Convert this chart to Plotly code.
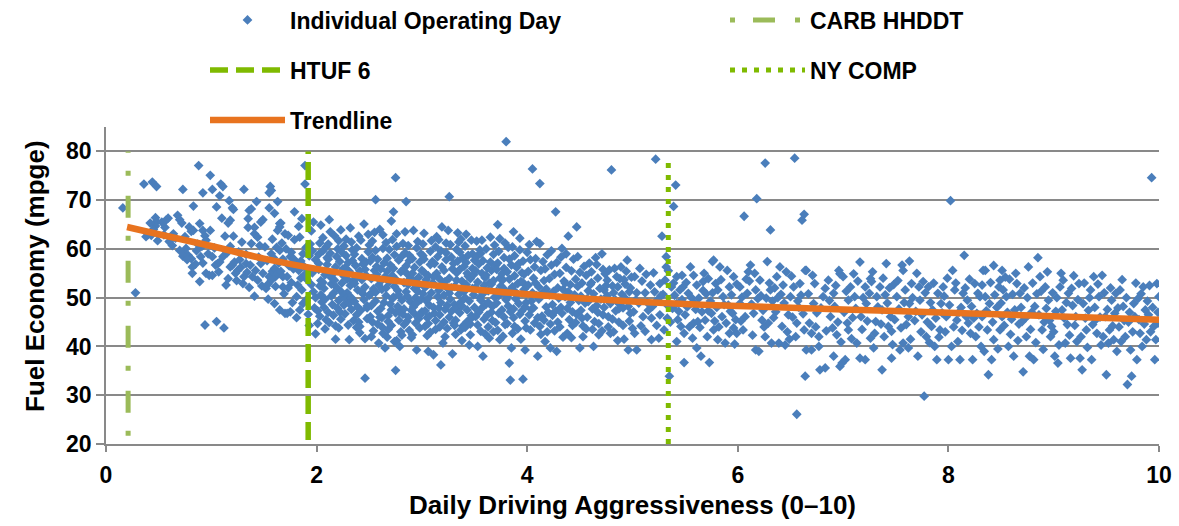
import plotly.graph_objects as go

# ---------------- data ----------------
# Individual operating days: (aggressiveness, fuel economy mpge), grouped by x range
days_00_05 = [(0.16,68.4),(0.28,51.0),(0.36,73.3),(0.44,73.7),(0.48,72.8),(0.40,63.0),(0.47,66.4),(0.48,65.6),(0.47,64.7),(0.43,62.8),(0.45,64.0),(0.38,62.5),(0.49,61.7),(0.42,65.3)]
days_05_10 = [(0.53,65.5),(0.56,64.4),(0.59,66.3),(0.57,65.9),(0.68,66.9),(0.70,66.0),(0.72,65.3),(0.79,64.5),(0.81,63.6),(0.83,63.8),(0.89,65.2),(0.92,63.8),(0.94,62.7),(0.99,63.8),(0.73,72.2),(0.88,77.1),(0.99,75.1),(0.92,71.5),(0.83,68.8),(0.63,60.7),(0.73,58.5),(0.74,59.2),(0.78,58.7),(0.81,58.0),(0.82,56.3),(0.82,55.0),(0.89,53.3),(0.90,58.4),(0.92,57.1),(0.95,55.0),(0.98,54.6),(0.94,44.4),(0.60,61.5),(0.66,62.2),(0.76,60.1),(0.86,59.6),(0.97,59.0),(0.91,60.5),(0.85,56.9),(0.77,57.8),(0.70,59.7),(0.95,61.8),(0.87,61.0),(0.64,63.1),(0.55,62.9),(0.75,62.5)]
days_10_15 = [(1.01,72.2),(1.09,73.3),(1.11,72.8),(1.08,70.9),(1.31,72.2),(1.17,69.9),(1.05,68.6),(1.20,68.4),(1.21,68.1),(1.43,69.7),(1.36,67.9),(1.38,68.2),(1.10,66.3),(1.16,65.3),(1.18,65.9),(1.13,62.6),(1.21,62.6),(1.35,66.2),(1.35,64.4),(1.41,64.4),(1.41,63.1),(1.44,62.4),(1.47,65.5),(1.49,66.0),(1.01,54.6),(1.01,58.4),(1.04,56.7),(1.06,57.0),(1.08,57.3),(1.11,58.4),(1.14,52.6),(1.16,53.9),(1.18,56.3),(1.18,60.5),(1.20,56.7),(1.22,57.3),(1.23,55.0),(1.25,55.6),(1.27,57.8),(1.28,56.2),(1.30,52.9),(1.31,54.3),(1.33,57.0),(1.37,56.7),(1.38,61.1),(1.39,54.3),(1.41,50.3),(1.42,55.6),(1.44,53.6),(1.46,60.7),(1.47,57.0),(1.49,55.0),(1.05,45.1),(1.12,43.8),(1.03,60.2),(1.26,59.4),(1.33,58.9),(1.45,58.3),(1.15,59.2),(1.29,61.4),(1.24,53.5),(1.36,52.1),(1.48,52.4),(1.07,55.3),(1.34,55.2)]
days_15_20 = [(1.52,51.9),(1.54,52.8),(1.55,54.3),(1.57,59.0),(1.58,55.4),(1.60,56.0),(1.61,54.3),(1.63,55.0),(1.65,59.7),(1.66,55.4),(1.68,54.3),(1.60,48.8),(1.65,47.5),(1.70,46.8),(1.56,72.8),(1.55,71.5),(1.57,72.0),(1.63,69.7),(1.60,67.3),(1.55,68.4),(1.65,64.5),(1.63,63.8),(1.66,65.3),(1.65,65.2),(1.73,62.8),(1.79,67.6),(1.75,58.4),(1.72,54.3),(1.68,52.2),(1.75,47.1),(1.72,46.8),(1.89,73.3),(1.89,77.1),(1.86,66.2),(1.84,62.4),(1.83,55.6),(1.86,51.6),(1.84,47.5),(1.87,59.0),(1.53,57.6),(1.59,58.2),(1.62,60.3),(1.67,61.2),(1.71,60.0),(1.74,56.5),(1.76,53.1),(1.78,55.9),(1.80,57.4),(1.81,50.2),(1.82,52.6),(1.85,54.0),(1.88,56.4),(1.90,49.5),(1.91,53.7),(1.93,58.6),(1.94,61.0),(1.96,55.1),(1.97,51.2),(1.98,47.9),(1.92,46.6),(1.77,49.0),(1.69,50.8),(1.95,63.7),(1.99,57.8),(1.79,61.9),(1.70,63.1),(1.58,62.0),(1.51,60.4),(1.97,65.5),(1.83,64.6),(1.76,59.3),(1.64,57.1),(1.87,48.8),(1.93,44.3),(1.99,42.6),(1.81,45.9),(1.90,60.3),(1.73,52.0),(1.61,52.3),(1.54,49.7),(1.85,57.5),(1.95,52.7),(1.89,54.8),(1.78,58.0),(1.68,57.9),(1.57,53.6),(1.99,50.0),(1.96,59.6)]
days_20_25 = [(2.01,47.3),(2.02,55.8),(2.03,61.2),(2.04,50.6),(2.02,58.9),(2.01,44.7),(2.03,52.4),(2.04,64.9),(2.05,49.1),(2.02,57.0),(2.04,53.5),(2.03,46.2),
(2.06,59.6),(2.07,48.0),(2.08,54.7),(2.06,62.3),(2.09,45.5),(2.07,51.9),(2.10,56.8),(2.08,43.6),(2.09,60.4),(2.06,53.1),(2.08,49.7),(2.10,58.2),
(2.11,47.0),(2.12,55.2),(2.13,63.5),(2.14,50.3),(2.11,57.9),(2.12,44.9),(2.14,52.8),(2.13,59.1),(2.15,48.6),(2.12,66.0),(2.14,54.1),(2.11,61.0),
(2.16,46.4),(2.17,53.6),(2.18,41.5),(2.19,58.4),(2.16,50.9),(2.18,56.3),(2.17,62.7),(2.20,47.8),(2.19,52.1),(2.16,55.0),(2.18,44.2),(2.20,60.0),
(2.21,49.4),(2.22,57.4),(2.23,45.6),(2.24,53.0),(2.21,61.7),(2.23,51.3),(2.22,47.1),(2.25,55.9),(2.24,59.3),(2.21,43.8),(2.23,63.9),(2.25,50.2),
(2.26,54.4),(2.27,46.7),(2.28,58.6),(2.29,51.0),(2.26,48.5),(2.28,62.0),(2.27,56.1),(2.30,44.4),(2.29,53.8),(2.26,60.6),(2.28,49.9),(2.30,57.2),
(2.31,41.4),(2.32,52.5),(2.33,47.6),(2.34,59.8),(2.31,55.4),(2.33,50.0),(2.32,64.3),(2.35,45.3),(2.34,57.6),(2.31,48.8),(2.33,61.4),(2.35,53.3),
(2.36,49.2),(2.37,56.6),(2.38,43.9),(2.39,51.6),(2.36,58.9),(2.38,46.5),(2.37,54.0),(2.40,62.6),(2.39,48.1),(2.36,52.9),(2.38,60.2),(2.40,45.0),
(2.41,55.5),(2.42,47.4),(2.43,58.0),(2.44,50.8),(2.41,44.1),(2.43,53.7),(2.42,61.8),(2.45,49.6),(2.44,56.9),(2.41,42.8),(2.43,51.4),(2.45,65.1),
(2.46,41.6),(2.46,33.5),(2.47,54.6),(2.48,47.9),(2.49,59.4),(2.46,52.2),(2.48,45.7),(2.47,57.3),(2.50,50.5),(2.49,63.0),(2.46,55.8),(2.48,48.3),(2.50,60.8)]
days_25_30 = [(2.51,46.1),(2.52,53.9),(2.53,58.3),(2.54,43.2),(2.51,50.7),(2.53,61.6),(2.52,48.4),(2.55,55.6),(2.54,51.8),(2.51,57.5),(2.53,45.0),(2.55,63.4),(2.52,42.0),
(2.56,70.1),(2.56,49.3),(2.57,56.4),(2.58,44.6),(2.59,52.6),(2.56,59.7),(2.58,47.2),(2.57,54.8),(2.60,64.0),(2.59,40.7),(2.56,51.1),(2.58,57.9),(2.60,46.0),
(2.61,53.4),(2.62,45.9),(2.63,60.1),(2.64,49.0),(2.61,55.9),(2.63,42.7),(2.62,51.7),(2.65,39.7),(2.64,57.1),(2.61,47.8),(2.63,62.9),(2.65,54.3),(2.62,44.0),
(2.66,50.4),(2.67,58.1),(2.68,46.3),(2.69,53.2),(2.66,61.3),(2.68,43.5),(2.67,55.4),(2.70,48.7),(2.69,59.9),(2.66,52.0),(2.68,45.1),(2.70,56.7),(2.67,41.9),
(2.71,65.7),(2.73,67.6),(2.71,47.5),(2.72,54.5),(2.73,50.1),(2.74,58.8),(2.71,44.3),(2.72,61.9),(2.74,52.3),(2.75,46.9),(2.73,56.0),(2.75,35.1),(2.75,74.6),(2.72,49.8),(2.74,41.0),
(2.76,41.2),(2.76,53.6),(2.77,48.2),(2.78,57.7),(2.79,40.0),(2.76,60.5),(2.78,45.4),(2.77,51.5),(2.80,55.3),(2.79,47.0),(2.76,63.1),(2.78,50.6),(2.80,43.0),
(2.81,58.5),(2.82,46.6),(2.83,53.1),(2.84,63.5),(2.81,49.5),(2.83,44.5),(2.82,55.7),(2.85,69.7),(2.85,51.2),(2.84,59.2),(2.81,42.3),(2.83,47.7),(2.85,56.5),(2.82,61.1),
(2.86,45.2),(2.87,52.7),(2.88,57.6),(2.89,49.2),(2.86,54.9),(2.88,43.3),(2.87,60.7),(2.90,47.4),(2.89,53.9),(2.86,50.3),(2.88,58.7),(2.90,41.8),(2.87,46.0),
(2.91,55.0),(2.92,63.8),(2.92,48.1),(2.93,51.9),(2.94,44.8),(2.91,58.0),(2.93,46.7),(2.92,53.5),(2.95,60.2),(2.94,50.0),(2.91,42.4),(2.93,56.2),(2.95,48.9),
(2.95,39.3),(2.96,52.4),(2.97,45.7),(2.98,57.3),(2.99,49.6),(2.96,61.5),(2.98,43.8),(2.97,54.2),(3.00,47.1),(2.99,59.0),(2.96,51.3),(2.98,46.4),(3.00,55.6)]
days_30_35 = [(3.01,50.8),(3.02,57.9),(3.03,44.1),(3.04,53.7),(3.01,61.0),(3.03,47.3),(3.02,55.2),(3.05,42.2),(3.04,49.4),(3.01,58.6),(3.03,52.1),(3.05,45.9),(3.02,63.2),
(3.06,39.0),(3.06,54.5),(3.07,48.5),(3.08,59.5),(3.09,51.0),(3.06,44.7),(3.08,56.8),(3.07,46.2),(3.10,53.0),(3.09,61.7),(3.06,49.9),(3.08,42.9),(3.10,57.4),
(3.11,38.3),(3.11,52.9),(3.12,46.8),(3.13,60.4),(3.14,55.0),(3.11,48.0),(3.13,43.5),(3.12,57.0),(3.15,50.2),(3.14,62.5),(3.11,54.3),(3.13,45.3),(3.15,58.4),
(3.16,47.9),(3.17,53.8),(3.18,36.2),(3.19,64.5),(3.18,59.6),(3.16,51.5),(3.17,44.0),(3.19,56.3),(3.20,40.7),(3.18,49.0),(3.16,61.9),(3.20,52.6),(3.17,46.5),
(3.21,55.6),(3.22,47.6),(3.23,59.2),(3.24,43.7),(3.21,50.5),(3.23,57.8),(3.22,53.3),(3.25,63.8),(3.24,48.4),(3.21,45.0),(3.23,61.2),(3.25,51.8),(3.22,42.0),
(3.26,70.7),(3.26,54.0),(3.27,49.7),(3.28,58.3),(3.29,38.5),(3.26,46.0),(3.28,52.0),(3.27,60.9),(3.30,44.8),(3.29,55.9),(3.26,50.9),(3.28,47.2),(3.30,57.0),
(3.31,52.3),(3.32,45.4),(3.33,59.9),(3.34,63.3),(3.31,48.6),(3.33,55.1),(3.32,42.5),(3.35,50.7),(3.34,57.5),(3.31,44.3),(3.33,53.6),(3.35,61.4),(3.32,47.8),
(3.36,55.8),(3.37,49.1),(3.38,41.2),(3.39,58.1),(3.36,46.9),(3.38,53.4),(3.37,62.0),(3.40,51.2),(3.39,44.2),(3.36,59.3),(3.38,48.3),(3.40,56.4),(3.37,43.4),
(3.41,50.0),(3.42,57.2),(3.43,45.1),(3.44,54.4),(3.41,60.6),(3.43,47.5),(3.42,52.7),(3.45,40.3),(3.44,58.7),(3.41,43.9),(3.43,55.0),(3.45,49.3),(3.42,63.0),
(3.46,53.9),(3.47,46.3),(3.48,59.0),(3.49,50.6),(3.46,44.6),(3.48,56.0),(3.47,61.8),(3.50,48.0),(3.49,54.7),(3.46,42.4),(3.48,51.9),(3.50,57.7),(3.47,45.8)]
days_35_40 = [(3.51,52.1),(3.52,58.4),(3.53,40.0),(3.54,47.0),(3.51,55.5),(3.53,44.4),(3.52,61.6),(3.55,50.0),(3.54,56.9),(3.51,46.1),(3.53,53.2),(3.55,59.8),
(3.57,61.8),(3.56,49.5),(3.57,55.0),(3.58,38.0),(3.59,52.5),(3.56,43.1),(3.58,57.6),(3.57,47.9),(3.60,54.1),(3.59,45.6),(3.56,59.1),(3.58,50.8),(3.60,42.6),
(3.61,48.7),(3.62,56.1),(3.63,44.0),(3.64,53.0),(3.61,60.0),(3.63,51.4),(3.62,46.4),(3.65,57.3),(3.64,41.7),(3.61,54.6),(3.63,49.0),(3.65,62.4),
(3.66,52.8),(3.67,45.3),(3.68,58.9),(3.69,50.1),(3.66,55.6),(3.68,43.0),(3.67,48.2),(3.70,56.6),(3.69,60.8),(3.66,47.0),(3.68,53.5),(3.70,44.9),
(3.72,65.0),(3.74,62.1),(3.74,41.4),(3.71,51.3),(3.72,57.1),(3.73,46.8),(3.74,54.0),(3.71,48.9),(3.73,59.5),(3.72,43.3),(3.75,52.4),(3.71,55.8),(3.73,50.4),
(3.76,47.5),(3.77,53.7),(3.78,58.2),(3.79,44.5),(3.76,51.0),(3.78,56.0),(3.77,42.1),(3.80,49.6),(3.79,61.2),(3.76,54.9),(3.78,46.0),(3.80,82.0),(3.77,52.0),
(3.81,55.3),(3.82,48.3),(3.83,36.6),(3.84,33.1),(3.83,57.9),(3.84,51.6),(3.81,44.7),(3.83,53.8),(3.82,60.3),(3.85,39.7),(3.84,47.1),(3.81,50.2),(3.85,56.7),
(3.87,63.5),(3.86,52.2),(3.87,45.9),(3.88,58.6),(3.89,49.8),(3.86,42.7),(3.88,54.5),(3.87,47.7),(3.90,56.2),(3.89,51.1),(3.86,60.4),(3.88,44.1),
(3.91,50.7),(3.92,57.0),(3.93,46.6),(3.94,53.3),(3.91,43.6),(3.93,59.8),(3.92,48.8),(3.95,55.1),(3.94,41.5),(3.91,52.9),(3.93,62.2),(3.95,47.3),
(3.96,33.3),(3.97,54.8),(3.98,39.3),(3.99,49.0),(3.96,57.5),(3.98,45.2),(3.97,51.7),(4.00,59.3),(3.99,43.8),(3.96,53.1),(3.98,48.1)]
days_40_45 = [(4.01,52.6),(4.02,46.5),(4.03,57.8),(4.04,49.3),(4.01,55.4),(4.03,43.4),(4.02,60.9),(4.05,76.4),(4.05,51.0),(4.04,47.6),
(4.06,54.0),(4.07,44.8),(4.08,58.0),(4.09,50.4),(4.06,47.9),(4.10,38.0),(4.08,53.0),(4.07,56.3),(4.10,45.9),(4.09,61.5),
(4.12,73.4),(4.12,61.1),(4.11,49.7),(4.13,55.6),(4.14,46.2),(4.11,52.2),(4.13,42.5),(4.15,57.4),(4.14,50.9),(4.12,44.1),
(4.16,53.5),(4.17,41.0),(4.18,48.1),(4.19,58.8),(4.16,45.4),(4.18,51.8),(4.17,55.9),(4.20,47.0),(4.19,43.0),
(4.22,39.7),(4.21,50.6),(4.23,56.7),(4.24,46.4),(4.21,53.9),(4.23,59.6),(4.22,44.6),(4.25,51.3),(4.24,48.6),
(4.27,67.6),(4.28,39.0),(4.26,54.8),(4.27,47.3),(4.29,52.0),(4.26,43.2),(4.28,57.2),(4.30,49.9),(4.29,45.0),
(4.31,55.0),(4.32,48.0),(4.33,60.1),(4.34,51.7),(4.31,44.0),(4.33,46.8),(4.35,53.4),(4.32,58.3),(4.34,41.9),
(4.36,50.2),(4.38,42.7),(4.39,62.6),(4.37,56.2),(4.38,47.8),(4.36,53.0),(4.40,45.5),(4.39,51.2),(4.37,59.0),
(4.41,49.0),(4.42,55.5),(4.43,44.3),(4.44,57.9),(4.41,52.7),(4.43,47.1),(4.45,50.6),(4.42,41.8),
(4.47,64.5),(4.46,53.8),(4.47,46.6),(4.48,58.4),(4.49,49.4),(4.46,44.9),(4.50,39.7),(4.48,52.3),(4.50,55.2)]
days_45_50 = [(4.51,47.4),(4.52,53.0),(4.53,44.2),(4.54,56.4),(4.51,50.3),(4.53,42.0),(4.55,48.9),
(4.56,54.6),(4.57,46.0),(4.58,51.4),(4.59,57.1),(4.56,43.6),(4.58,49.2),(4.60,52.7),
(4.63,40.0),(4.61,55.3),(4.62,47.7),(4.63,50.8),(4.64,45.1),(4.61,53.1),(4.65,58.2),
(4.66,48.4),(4.67,54.0),(4.68,44.7),(4.69,51.9),(4.66,56.8),(4.68,42.4),(4.70,49.7),
(4.71,59.0),(4.73,51.6),(4.72,46.5),(4.74,54.9),(4.71,43.2),(4.73,48.0),(4.75,52.5),
(4.77,46.1),(4.79,42.7),(4.76,50.4),(4.78,55.7),(4.80,76.2),(4.79,48.8),(4.76,53.6),
(4.81,45.6),(4.82,51.0),(4.83,56.0),(4.85,54.3),(4.84,47.3),(4.82,43.0),(4.84,49.5),
(4.86,52.2),(4.87,45.0),(4.89,56.3),(4.88,48.6),(4.86,41.2),(4.90,50.7),(4.88,53.9),
(4.92,41.5),(4.91,47.9),(4.93,52.8),(4.94,55.4),(4.91,44.3),(4.95,57.7),(4.93,49.9),
(4.96,39.3),(4.97,51.2),(4.98,46.8),(4.99,54.2),(4.96,48.2),(5.00,43.7),(4.98,52.0)]
days_50_55 = [(5.01,47.1),(5.02,54.3),(5.02,42.7),(5.04,51.0),(5.04,39.3),(5.07,56.0),(5.10,46.1),(5.12,51.0),(5.12,43.1),(5.14,49.0),(5.17,52.6),(5.18,45.8),(5.18,41.4),(5.21,51.2),(5.22,78.4),(5.25,41.7),(5.26,52.9),(5.26,46.5),(5.28,62.6),(5.30,43.4),(5.31,53.6),(5.32,58.4),(5.32,56.3),(5.33,48.5),(5.35,33.9),(5.37,52.2),(5.39,68.7),(5.41,73.1),(5.42,54.3),(5.42,48.8),(5.42,41.0),(5.47,54.6),(5.48,52.2),(5.49,42.7),(5.49,36.7),(5.50,46.5),(5.06,48.9),(5.09,53.4),(5.15,47.4),(5.20,55.1),(5.24,49.6),(5.29,50.7),(5.36,45.0),(5.40,50.5),(5.44,47.2),(5.46,44.1),(5.34,55.5),(5.38,47.8),(5.45,51.6)]
days_55_60 = [(5.53,50.9),(5.55,56.3),(5.58,54.6),(5.58,44.8),(5.57,41.7),(5.61,52.6),(5.61,39.7),(5.65,38.0),(5.66,47.1),(5.67,53.3),(5.69,45.4),(5.72,53.9),(5.73,36.7),(5.75,46.8),(5.76,57.4),(5.77,57.7),(5.77,43.4),(5.81,41.4),(5.81,51.6),(5.86,50.2),(5.91,48.5),(5.92,52.2),(5.85,46.1),(5.89,44.8),(5.92,42.7),(5.88,40.7),(5.95,46.8),(5.96,54.3),(5.83,56.3),(5.52,48.1),(5.56,50.0),(5.60,47.6),(5.63,49.9),(5.64,43.9),(5.70,50.8),(5.74,49.3),(5.79,52.9),(5.80,48.0),(5.54,44.0),(5.68,55.0),(5.71,42.0),(5.78,45.2),(5.84,53.7),(5.90,55.6),(5.94,50.6),(5.98,45.5),(5.99,52.8),(5.97,40.5)]
days_45_60_more = [(4.52,45.8),(4.57,49.8),(4.62,43.5),(4.67,47.0),(4.72,55.8),(4.77,44.0),(4.81,52.4),(4.87,47.7),(4.92,53.7),(4.97,45.2),(5.03,49.5),(5.08,44.2),(5.13,54.8),(5.19,48.2),(5.23,44.3),(5.27,50.4),(5.33,45.8),(5.39,53.0),(5.43,45.5),(5.47,49.6),(5.51,53.1),(5.59,48.9),(5.62,45.1),(5.67,51.5),(5.72,47.3),(5.76,51.0),(5.82,44.0),(5.87,48.6),(5.93,47.2),(5.96,43.8)]
days_60_66 = [(6.12,56.7),(6.10,55.3),(6.02,52.2),(6.09,50.9),(6.17,51.6),(6.21,53.6),(6.27,49.9),(6.31,51.6),(6.37,54.3),(6.40,56.3),(6.46,55.3),(6.53,52.2),(6.59,52.9),(6.64,55.6),(6.02,48.8),(6.07,46.1),(6.15,46.8),(6.23,45.4),(6.29,44.8),(6.36,47.1),(6.42,44.1),(6.48,46.5),(6.56,44.8),(6.63,43.4),(5.99,42.7),(6.05,43.4),(6.17,39.3),(6.20,39.0),(6.26,42.0),(6.32,40.7),(6.39,40.7),(6.45,40.3),(6.55,42.0),(6.65,39.3),(6.64,33.9),(6.56,26.1),(6.26,77.6),(6.54,78.6),(6.18,70.3),(6.06,66.7),(6.31,63.9),(6.61,65.9),(6.63,67.1),(6.04,50.1),(6.13,48.7),(6.19,49.8),(6.24,47.4),(6.33,49.3),(6.44,48.9),(6.50,50.2),(6.58,48.0),(6.11,53.4),(6.35,52.0),(6.47,43.0),(6.28,57.4),(6.41,50.7),(6.52,46.0),(6.60,50.5)]
days_66_83 = [(6.65,55.6),(6.73,52.9),(6.72,48.8),(6.68,44.8),(6.70,42.7),(6.77,42.0),(6.70,39.3),(6.78,35.2),(6.83,35.6),(6.77,40.0),(6.81,50.2),(6.83,51.9),(6.88,46.1),(6.91,50.9),(6.92,48.2),(6.96,55.6),(6.97,54.9),(7.00,54.3),(6.91,38.0),(6.94,42.4),(6.97,35.9),(6.99,36.6),(7.02,37.3),(7.05,49.5),(7.07,52.2),(7.04,44.8),(7.05,43.4),(7.10,54.9),(7.11,50.2),(7.16,57.3),(7.13,40.7),(7.16,37.6),(7.21,37.3),(7.17,46.1),(7.21,52.2),(7.26,53.9),(7.27,53.3),(7.22,48.8),(7.26,41.7),(7.29,39.7),(7.32,50.2),(7.35,52.2),(7.37,47.5),(7.37,35.2),(7.40,50.6),(7.41,57.0),(7.43,44.1),(7.45,46.1),(7.46,43.1),(7.46,37.6),(7.51,50.2),(7.56,56.7),(7.57,55.6),(7.54,39.3),(7.57,40.7),(7.59,51.6),(7.62,46.1),(7.63,57.5),(7.65,52.9),(7.63,48.8),(7.62,39.7),(7.71,38.0),(7.73,49.5),(7.76,53.3),(7.77,29.8),(7.79,42.0),(7.81,52.2),(7.84,44.1),(7.85,47.5),(7.87,40.0),(7.89,37.3),(7.90,50.9),(7.92,43.4),(7.93,48.8),(7.95,52.2),(7.98,46.1),(8.00,37.3),(8.02,69.9),(8.03,40.0),(8.04,55.6),(8.06,51.6),(8.08,45.4),(8.09,41.0),(8.11,37.3),(8.14,50.9),(8.15,58.7),(8.17,46.1),(8.19,44.8),(8.22,48.2),(8.23,37.3),(8.25,52.9),(8.26,42.0),(8.30,50.2),(8.31,40.0),(8.33,55.6),(6.75,46.9),(6.86,53.6),(7.09,45.9),(7.19,50.0),(7.31,45.1),(7.48,52.7),(7.53,47.7),(7.68,45.3),(7.83,49.0),(8.12,48.0),(8.27,46.8),(7.39,42.0),(6.90,43.8),(7.97,43.0),(8.20,53.8),(7.70,55.0)]
days_83_100 = [(8.35,55.6),(8.43,56.6),(8.51,55.6),(8.49,53.6),(8.48,52.2),(8.52,51.6),(8.55,50.2),(8.35,50.2),(8.39,48.8),(8.32,46.1),(8.37,43.4),(8.43,41.4),(8.38,34.2),(8.41,37.3),(8.49,43.4),(8.51,46.1),(8.57,40.0),(8.62,38.0),(8.65,52.9),(8.68,50.9),(8.63,47.5),(8.70,45.1),(8.71,34.8),(8.74,42.0),(8.76,56.3),(8.77,38.0),(8.81,37.3),(8.82,48.2),(8.85,58.2),(8.87,54.3),(8.89,43.4),(8.92,52.2),(8.95,49.5),(8.97,42.0),(8.98,44.1),(9.01,38.0),(9.04,36.6),(9.06,52.2),(9.08,47.5),(9.11,40.7),(9.14,50.9),(9.16,37.6),(9.19,54.5),(9.21,46.1),(9.24,52.9),(9.25,37.6),(9.27,35.2),(9.28,48.8),(9.31,43.4),(9.35,51.6),(9.36,37.3),(9.38,54.3),(9.41,42.7),(9.43,50.2),(9.46,54.6),(9.49,46.1),(9.50,34.2),(9.52,40.7),(9.53,43.4),(9.58,46.8),(9.60,39.0),(9.63,51.6),(9.66,48.2),(9.68,42.0),(9.70,32.2),(9.74,33.9),(9.73,39.3),(9.76,48.8),(9.77,46.1),(9.79,37.3),(9.82,42.7),(9.85,52.2),(9.87,47.5),(9.88,41.4),(9.91,52.5),(9.93,74.6),(9.95,44.1),(9.96,37.3),(9.98,52.9),(10.00,50.2),(9.99,44.8),(8.46,48.0),(8.60,45.6),(8.72,52.0),(8.79,47.0),(8.91,45.0),(9.03,50.0),(9.13,44.5),(9.22,41.0),(9.33,47.4),(9.40,45.5),(9.55,49.5),(9.62,44.0),(9.71,45.0),(9.80,49.8),(9.90,46.5),(8.58,53.8),(8.84,50.8),(9.09,53.6),(9.45,40.3),(9.65,53.7),(8.66,41.2),(9.18,48.4)]
days_60_100_more = [(6.03,45.2),(6.08,53.8),(6.14,42.3),(6.16,55.0),(6.22,50.4),(6.25,44.0),(6.30,53.0),(6.34,45.9),(6.38,50.0),(6.43,52.6),(6.49,41.5),(6.51,54.4),(6.57,49.3),(6.62,46.7),
(6.67,50.8),(6.71,54.6),(6.74,44.0),(6.79,47.9),(6.84,43.2),(6.87,49.4),(6.93,52.5),(6.95,45.0),(6.98,40.9),(7.01,47.0),(7.03,51.3),(7.08,41.6),(7.12,47.8),(7.14,53.4),(7.18,43.5),(7.23,45.2),(7.25,50.9),(7.28,55.3),(7.30,42.7),(7.33,48.1),(7.36,44.6),(7.38,54.0),(7.42,48.9),(7.44,52.0),(7.47,40.4),(7.49,45.5),(7.52,53.5),(7.55,43.8),(7.58,49.0),(7.60,44.5),(7.64,41.5),(7.66,50.0),(7.69,47.2),(7.72,52.2),(7.74,43.0),(7.75,46.5),(7.78,51.0),(7.80,45.0),(7.82,40.8),(7.86,53.0),(7.88,45.8),(7.91,41.9),(7.94,46.9),(7.96,50.3),(7.99,54.0),
(8.01,48.5),(8.05,44.0),(8.07,53.0),(8.10,47.0),(8.13,43.3),(8.16,52.0),(8.18,49.5),(8.21,42.7),(8.24,45.8),(8.28,50.9),(8.29,44.0),(8.32,52.6),(8.34,39.0),(8.36,47.3),(8.40,53.1),(8.42,45.0),(8.44,50.6),(8.47,39.5),(8.50,48.9),(8.53,44.3),(8.54,54.2),(8.56,47.0),(8.59,42.5),(8.61,50.7),(8.64,55.0),(8.67,44.6),(8.69,48.0),(8.73,45.8),(8.75,50.0),(8.78,43.5),(8.80,53.0),(8.83,40.8),(8.86,46.5),(8.88,51.3),(8.90,39.4),(8.93,47.8),(8.94,55.3),(8.96,45.3),(8.99,51.0),
(9.00,43.0),(9.02,47.2),(9.05,40.3),(9.07,55.0),(9.10,45.8),(9.12,49.0),(9.15,42.3),(9.17,51.9),(9.20,44.3),(9.23,49.6),(9.26,42.0),(9.29,53.0),(9.30,45.8),(9.32,39.8),(9.34,50.0),(9.37,44.5),(9.39,48.0),(9.42,52.8),(9.44,46.0),(9.47,42.0),(9.48,51.0),(9.51,47.6),(9.54,52.0),(9.56,44.2),(9.57,41.4),(9.59,50.9),(9.61,47.9),(9.64,41.0),(9.67,45.3),(9.69,50.0),(9.72,47.0),(9.75,43.0),(9.78,53.0),(9.81,45.5),(9.83,50.8),(9.84,40.0),(9.86,44.6),(9.89,49.3),(9.92,43.0),(9.94,48.0),(9.97,41.4),(9.99,47.0)]

# reference drive cycles (vertical markers)
carb_x, carb_y = [0.21, 0.21], [21.7, 80.0]
htuf_x, htuf_y = [1.92, 1.92], [20.8, 80.0]
ny_x, ny_y = [5.34, 5.34], [20.0, 78.5]

# trendline
trend_x = [0.2, 0.5, 1.0, 1.5, 2.0, 2.5, 3.0, 3.5, 4.0, 4.5, 5.0, 5.5, 6.0, 7.0, 8.0, 9.0, 10.0]
trend_y = [64.5, 63.0, 60.6, 58.0, 55.9, 54.2, 52.8, 51.7, 50.7, 49.9, 49.2, 48.7, 48.3, 47.6, 46.9, 46.2, 45.5]

x_ticks = [0, 2, 4, 6, 8, 10]
y_ticks = [20, 30, 40, 50, 60, 70, 80]

# ---------------- figure ----------------
all_days = (days_00_05 + days_05_10 + days_10_15 + days_15_20 + days_20_25 + days_25_30 +
            days_30_35 + days_35_40 + days_40_45 + days_45_50 + days_50_55 + days_55_60 +
            days_45_60_more + days_60_66 + days_66_83 + days_83_100 + days_60_100_more)
dx = [p[0] for p in all_days]
dy = [p[1] for p in all_days]

FONT = "Liberation Sans, Arial, sans-serif"
BLUE = "#4A7EBB"
GREEN_LT = "#9BBB59"
GREEN = "#7FBA00"
ORANGE = "#E8731F"
GRID = "#898989"

fig = go.Figure()
fig.add_trace(go.Scatter(x=dx, y=dy, mode="markers", name="Individual Operating Day",
                         marker=dict(symbol="diamond", size=7.5, color=BLUE, line=dict(width=0)),
                         legend="legend", showlegend=True))
fig.add_trace(go.Scatter(x=carb_x, y=carb_y, mode="lines", name="CARB HHDDT",
                         line=dict(color=GREEN_LT, width=5, dash="5px,18px,22px,20px"),
                         legend="legend2", showlegend=True))
fig.add_trace(go.Scatter(x=htuf_x, y=htuf_y, mode="lines", name="HTUF 6",
                         line=dict(color=GREEN, width=5.5, dash="18px,8px"),
                         legend="legend3", showlegend=True))
fig.add_trace(go.Scatter(x=ny_x, y=ny_y, mode="lines", name="NY COMP",
                         line=dict(color=GREEN, width=5, dash="5px,7px"),
                         legend="legend4", showlegend=True))
fig.add_trace(go.Scatter(x=trend_x, y=trend_y, mode="lines", name="Trendline",
                         line=dict(color=ORANGE, width=6.5, shape="spline"),
                         legend="legend5", showlegend=True))

leg_font = dict(family=FONT, size=23, color="black", weight="bold")
def leg(x, y):
    return dict(x=x, y=y, xref="container", yref="container", xanchor="left", yanchor="middle",
                font=leg_font, itemwidth=75, bgcolor="rgba(0,0,0,0)", borderwidth=0,
                orientation="v", visible=True)

title_font = dict(family=FONT, size=26, color="black", weight="bold")
tick_font = dict(family=FONT, size=23, color="black", weight="bold")

fig.update_layout(
    width=1179, height=526,
    showlegend=True,
    margin=dict(l=106, r=20, t=127, b=82, autoexpand=False),
    paper_bgcolor="white", plot_bgcolor="white",
    font=dict(family=FONT, size=21, color="black", weight="bold"),
    legend=leg(205/1179, 1 - 20/526),
    legend2=leg(725/1179, 1 - 20/526),
    legend3=leg(205/1179, 1 - 70/526),
    legend4=leg(725/1179, 1 - 70/526),
    legend5=leg(205/1179, 1 - 120/526),
    xaxis=dict(range=[0, 10], tickvals=x_ticks, showgrid=False, zeroline=False,
               showline=True, linecolor=GRID, linewidth=1.5,
               ticks="outside", ticklen=6, tickcolor=GRID, tickwidth=1.5,
               ticklabelstandoff=4, tickfont=tick_font,
               title=dict(text="Daily Driving Aggressiveness (0–10)", font=title_font, standoff=8)),
    yaxis=dict(range=[20, 85], tickvals=y_ticks, showgrid=True, gridcolor=GRID, gridwidth=1.5,
               zeroline=False, showline=True, linecolor=GRID, linewidth=1.5,
               ticks="outside", ticklen=8, tickcolor=GRID, tickwidth=1.5,
               tickfont=tick_font),
    annotations=[dict(text="Fuel Economy (mpge)", textangle=-90, showarrow=False,
                      xref="paper", yref="paper", x=(35 - 106) / 1053, y=(444 - 276) / 317,
                      xanchor="center", yanchor="middle", font=title_font)],
)

fig.write_html("out.html", config={"displayModeBar": False},
               post_script="document.body.style.margin='0';document.body.style.overflow='hidden';")
